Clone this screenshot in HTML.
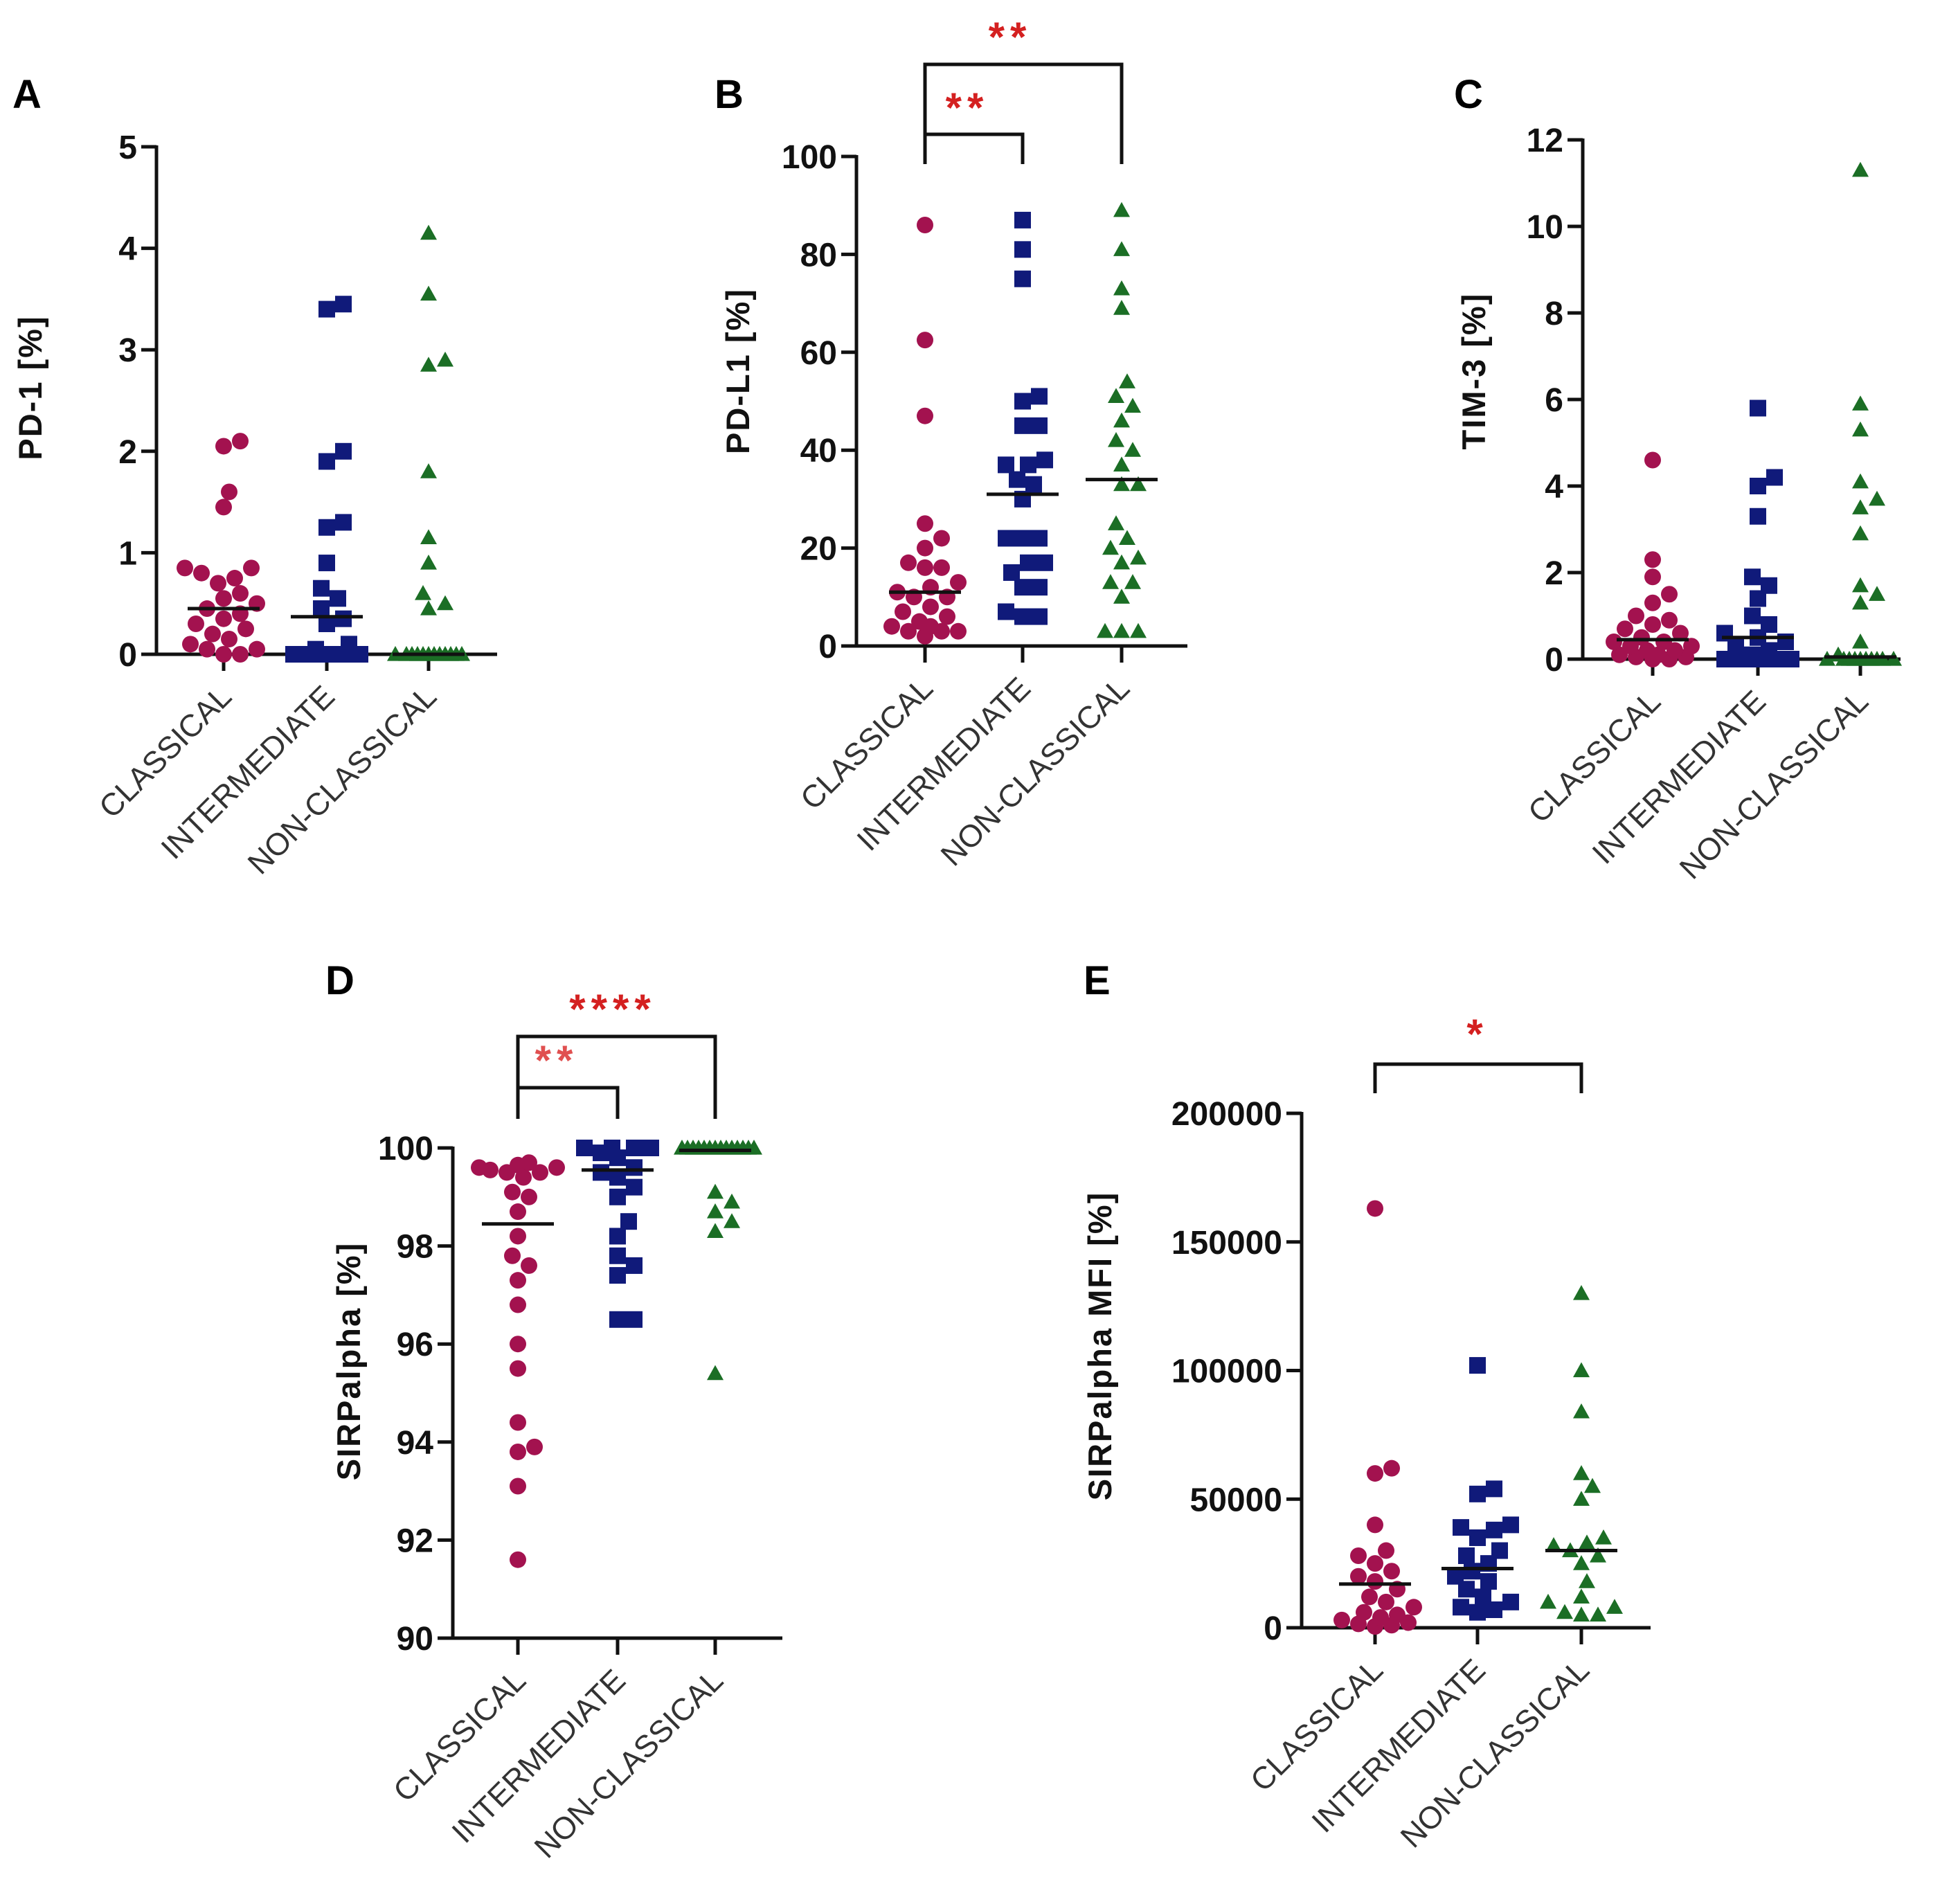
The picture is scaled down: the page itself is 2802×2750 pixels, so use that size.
<!DOCTYPE html>
<html><head><meta charset="utf-8"><style>
html,body{margin:0;padding:0;background:#fff;}
svg text{font-family:"Liberation Sans",sans-serif;}
</style></head><body>
<svg id="fig" width="2802" height="2745" viewBox="0 0 2802 2745" xmlns="http://www.w3.org/2000/svg"></svg>
<script>
const categories=["CLASSICAL","INTERMEDIATE","NON-CLASSICAL"];
const aClassical=[2.1,2.05,1.6,1.45,0.85,0.85,0.8,0.75,0.7,0.6,0.55,0.5,0.45,0.4,0.35,0.3,0.25,0.2,0.15,0.1,0.05,0.05,0,0];
const aInter=[3.45,3.4,2.0,1.9,1.3,1.25,0.9,0.65,0.55,0.45,0.35,0.3,0.1,0.05,0,0,0,0,0,0,0,0];
const aNon=[4.15,3.55,2.9,2.85,1.8,1.15,0.9,0.6,0.5,0.45,0,0,0,0,0,0,0,0,0,0,0,0];
const aMedians=[0.45,0.37,0];
const aTicks=[0,1,2,3,4,5];
const bClassical=[86,62.5,47,25,22,20,17,16,16,13,12,11,10,10,8,7,6,5,4,4,3,3,3,2];
const bInter=[87,81,75,51,50,45,45,38,37,37,34,33,30,22,22,22,17,17,15,12,12,7,6,6];
const bNon=[89,81,73,69,54,51,49,46,42,40,37,33,33,25,22,20,18,17,13,13,10,3,3,3];
const bMedians=[11,31,34];
const bTicks=[0,20,40,60,80,100];
const cClassical=[4.6,2.3,1.9,1.5,1.3,1.0,0.9,0.8,0.7,0.6,0.5,0.4,0.4,0.3,0.3,0.2,0.2,0.1,0.1,0.05,0.05,0,0];
const cInter=[5.8,4.2,4.0,3.3,1.9,1.7,1.4,1.0,0.8,0.6,0.5,0.4,0.3,0.2,0.1,0,0,0,0,0,0];
const cNon=[11.3,5.9,5.3,4.1,3.7,3.5,2.9,1.7,1.5,1.3,0.4,0.1,0,0,0,0,0,0,0,0,0,0];
const cMedians=[0.45,0.5,0.05];
const cTicks=[0,2,4,6,8,10,12];
const dClassical=[99.7,99.65,99.6,99.6,99.55,99.5,99.5,99.4,99.1,99.0,98.7,98.2,97.8,97.6,97.3,96.8,96.0,95.5,94.4,93.9,93.8,93.1,91.6];
const dInter=[100,100,100,100,99.9,99.8,99.6,99.5,99.4,99.2,99.0,98.5,98.2,97.8,97.6,97.4,96.5,96.5];
const dNon=[100,100,100,100,100,100,100,100,100,100,100,100,100,100,99.1,98.9,98.7,98.5,98.3,95.4];
const dMedians=[98.45,99.55,99.95];
const dTicks=[90,92,94,96,98,100];
const eClassical=[163000,62000,60000,40000,30000,28000,25000,22000,20000,18000,15000,12000,10000,8000,6000,5000,4000,3000,2000,1500,1000,500];
const eInter=[102000,54000,52000,40000,39000,38000,35000,30000,28000,25000,22000,20000,18000,15000,12000,10000,8000,7000,6000];
const eNon=[130000,100000,84000,60000,55000,50000,35000,33000,32000,30000,28000,25000,18000,12000,10000,8000,6000,5000,5000];
const eMedians=[17000,23000,30000];
const eTicks=[0,50000,100000,150000,200000];

const NS="http://www.w3.org/2000/svg";
const svg=document.getElementById('fig');
const COLORS=["#a3124f","#101a7a","#1b6e25"];
function mk(tag,attrs,parent){const e=document.createElementNS(NS,tag);for(const k in attrs)e.setAttribute(k,attrs[k]);(parent||svg).appendChild(e);return e;}

function panel(cfg){
  const g=mk('g',{});
  
  
  const ys=v=>cfg.y0+(v-cfg.min)/(cfg.max-cfg.min)*(cfg.y1-cfg.y0);
  const lt=mk('text',{x:cfg.lx,y:cfg.ly,'font-size':58,'font-weight':'bold',fill:'#000'},g);
  lt.textContent=cfg.letter;
  
  
  const ax=mk('line',{x1:cfg.ax,y1:ys(cfg.max)-2,x2:cfg.ax,y2:ys(cfg.min)+2,stroke:'#111','stroke-width':5},g);
  
  
  const xa=mk('line',{x1:cfg.ax-22,y1:ys(cfg.min),x2:cfg.xend,y2:ys(cfg.min),stroke:'#111','stroke-width':5},g);
  
  
  cfg.ticks.forEach(t=>{
    mk('line',{x1:cfg.ax-22,y1:ys(t),x2:cfg.ax,y2:ys(t),stroke:'#111','stroke-width':5},g);
    const tx=mk('text',{x:cfg.ax-28,y:ys(t)+17,'font-size':48,'font-weight':'bold','text-anchor':'end',fill:'#111'},g);
    tx.textContent=String(t);
    
    
  });
  const yt=mk('text',{x:0,y:0,'font-size':cfg.tfs||47,'font-weight':'bold','text-anchor':'middle',fill:'#111','letter-spacing':2,transform:`translate(${cfg.tx},${cfg.ty}) rotate(-90)`},g);
  yt.textContent=cfg.title;
  
  
  const base=ys(cfg.min);
  cfg.cats.forEach((cx,i)=>{
    mk('line',{x1:cx,y1:base,x2:cx,y2:base+24,stroke:'#111','stroke-width':5},g);
    const cl=mk('text',{x:0,y:0,'font-size':45,'text-anchor':'end',fill:'#333',transform:`translate(${cx+14},${base+64}) rotate(-45)`},g);
    cl.textContent=categories[i];
    
    
    const vals=cfg.series[i].slice().sort((a,b)=>a-b);
    const placed=[];const r=cfg.ms;const d=2*r;
    const cands=[0];for(let s=8;s<=56;s+=8){cands.push(s,-s);}
    vals.forEach(v=>{
      const py=ys(v);let best=0,bestD=-1;
      for(const c of cands){
        let md=Infinity;placed.forEach(p=>{md=Math.min(md,Math.hypot(p.x-(cx+c),p.y-py));});
        if(md>=d*0.95){best=c;bestD=md;break;}
        if(md>bestD){bestD=md;best=c;}
      }
      const px=cx+best;placed.push({x:px,y:py});
      let m;
      if(i===0)m=mk('circle',{cx:px,cy:py,r:r,fill:COLORS[0]},g);
      else if(i===1)m=mk('rect',{x:px-r,y:py-r,width:2*r,height:2*r,fill:COLORS[1]},g);
      else m=mk('polygon',{points:`${px},${py-r} ${px+r},${py+r*0.8} ${px-r},${py+r*0.8}`,fill:COLORS[2]},g);
      
      
    });
    const md=mk('line',{x1:cx-52,y1:ys(cfg.medians[i]),x2:cx+52,y2:ys(cfg.medians[i]),stroke:'#111','stroke-width':5},g);
    
    
  });
  (cfg.brackets||[]).forEach(b=>{
    const x1=cfg.cats[b.a],x2=cfg.cats[b.b];
    const br=mk('polyline',{points:`${x1},${b.bot} ${x1},${b.top} ${x2},${b.top} ${x2},${b.bot}`,fill:'none',stroke:'#111','stroke-width':5},g);
    
    
    const st=mk('text',{x:b.sx,y:b.sy,'font-size':60,'font-weight':'bold','text-anchor':'middle',fill:b.col||'#d42020','letter-spacing':8},g);
    st.textContent=b.stars;
    
    
  });
}
panel({letter:'A',lx:18,ly:156,ax:226,xend:718,y0:945,y1:212,min:0,max:5,ticks:aTicks,title:'PD-1  [%]',tx:60,ty:560,cats:[323,472,619],series:[aClassical,aInter,aNon],medians:aMedians,ms:12});
panel({letter:'B',lx:1032,ly:156,ax:1237,xend:1715,y0:933,y1:226,min:0,max:100,ticks:bTicks,title:'PD-L1  [%]',tx:1082,ty:536,cats:[1336,1477,1620],series:[bClassical,bInter,bNon],medians:bMedians,ms:12,
  brackets:[{a:0,b:1,top:194,bot:237,stars:'**',sx:1397,sy:176},{a:0,b:2,top:93,bot:237,stars:'**',sx:1459,sy:74}]});
panel({letter:'C',lx:2100,ly:156,ax:2286,xend:2745,y0:952,y1:202,min:0,max:12,ticks:cTicks,title:'TIM-3  [%]',tx:2145,ty:536,cats:[2387,2539,2687],series:[cClassical,cInter,cNon],medians:cMedians,ms:12});
panel({letter:'D',lx:470,ly:1436,ax:654,xend:1130,y0:2366,y1:1658,min:90,max:100,ticks:dTicks,title:'SIRPalpha [%]',tx:520,ty:1966,cats:[748,892,1033],series:[dClassical,dInter,dNon],medians:dMedians,ms:12,
  brackets:[{a:0,b:1,top:1571,bot:1616,stars:'**',sx:804,sy:1552,col:'#e05050'},{a:0,b:2,top:1497,bot:1616,stars:'****',sx:885,sy:1478}]});
panel({letter:'E',lx:1565,ly:1436,ax:1880,xend:2384,y0:2351,y1:1608,min:0,max:200000,ticks:eTicks,title:'SIRPalpha MFI [%]',tx:1605,ty:1944,cats:[1986,2134,2284],series:[eClassical,eInter,eNon],medians:eMedians,ms:12,
  brackets:[{a:0,b:2,top:1537,bot:1579,stars:'*',sx:2134,sy:1514}]});
</script>
</body></html>
